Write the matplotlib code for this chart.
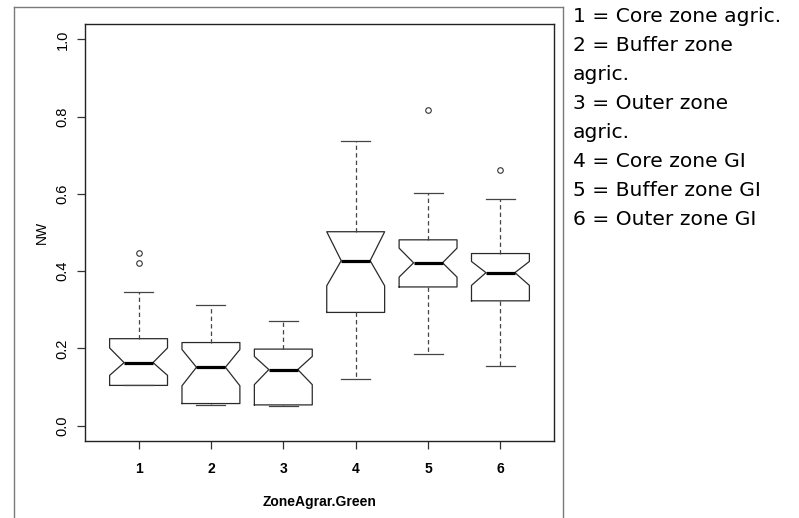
import matplotlib
matplotlib.use("Agg")
import matplotlib.pyplot as plt
from matplotlib.lines import Line2D

# Summary statistics of NW per zone (R-style notched boxplot)
zones = ["1", "2", "3", "4", "5", "6"]
medians = [0.163, 0.151, 0.145, 0.427, 0.4215, 0.396]
q1 = [0.104, 0.057, 0.0535, 0.293, 0.359, 0.323]
q3 = [0.225, 0.215, 0.198, 0.502, 0.481, 0.4455]
whisker_lo = [0.104, 0.052, 0.050, 0.1215, 0.185, 0.153]
whisker_hi = [0.345, 0.313, 0.271, 0.737, 0.603, 0.586]
notch_lo = [0.130, 0.103, 0.106, 0.362, 0.3845, 0.363]
notch_hi = [0.201, 0.197, 0.179, 0.502, 0.4595, 0.425]
outliers = [[0.448, 0.421], [], [], [], [0.817], [0.662]]

legend_lines = [
    "1 = Core zone agric.",
    "2 = Buffer zone",
    "agric.",
    "3 = Outer zone",
    "agric.",
    "4 = Core zone GI",
    "5 = Buffer zone GI",
    "6 = Outer zone GI",
]

W, H = 799, 518
fig = plt.figure(figsize=(W / 100, H / 100), dpi=100)
fig.patch.set_facecolor("white")

# outer frame (left, top, right edges)
frame_kw = dict(transform=fig.transFigure, color="#7a7a7a", lw=1.0)
fig.add_artist(Line2D([14 / W, 14 / W], [0, 1 - 7 / H], **frame_kw))
fig.add_artist(Line2D([14 / W, 563 / W], [1 - 7 / H, 1 - 7 / H], **frame_kw))
fig.add_artist(Line2D([563 / W, 563 / W], [0, 1 - 7 / H], **frame_kw))

ax = fig.add_axes([85 / W, 1 - 441 / H, (554 - 85) / W, (441 - 24) / H])

stats = []
for i, z in enumerate(zones):
    stats.append(dict(label=z, med=medians[i], q1=q1[i], q3=q3[i],
                      whislo=whisker_lo[i], whishi=whisker_hi[i],
                      cilo=notch_lo[i], cihi=notch_hi[i], fliers=outliers[i]))

ax.bxp(stats, positions=range(1, 7), widths=0.8, shownotches=True,
       boxprops=dict(color="#2a2a2a", lw=0.9),
       medianprops=dict(color="black", lw=2.3),
       whiskerprops=dict(color="#444444", lw=0.9, linestyle=(0, (3.5, 2.5))),
       capprops=dict(color="#444444", lw=0.9),
       capwidths=0.4,
       flierprops=dict(marker="o", markersize=4, markerfacecolor="none",
                       markeredgecolor="#333333", markeredgewidth=0.8))

ax.set_xlim(0.26, 6.74)
ax.set_ylim(-0.04, 1.04)
ax.set_yticks([0.0, 0.2, 0.4, 0.6, 0.8, 1.0])
ax.set_yticklabels(["0.0", "0.2", "0.4", "0.6", "0.8", "1.0"], rotation=90,
                   va="center", fontsize=10.5, family="Liberation Sans")
ax.set_xticks(range(1, 7))
ax.set_xticklabels(zones, fontsize=10, fontweight="bold", family="Liberation Sans")
ax.tick_params(axis="both", length=6, width=0.9, color="#333333")
ax.tick_params(axis="x", pad=9)
ax.tick_params(axis="y", pad=5)
for s in ax.spines.values():
    s.set_linewidth(1.0)
    s.set_color("#222222")

ax.set_xlabel("ZoneAgrar.Green", fontsize=10, fontweight="bold",
              family="Liberation Sans", labelpad=14)
ax.set_ylabel("NW", fontsize=10, family="Liberation Sans", labelpad=5)

# zone key on the right
y0 = 16
for k, t in enumerate(legend_lines):
    fig.text(573 / W, 1 - (y0 + 29.1 * k) / H, t, fontsize=14.6,
             family="DejaVu Sans", va="center", ha="left", color="black")

fig.savefig("out.png", dpi=100, facecolor="white")
